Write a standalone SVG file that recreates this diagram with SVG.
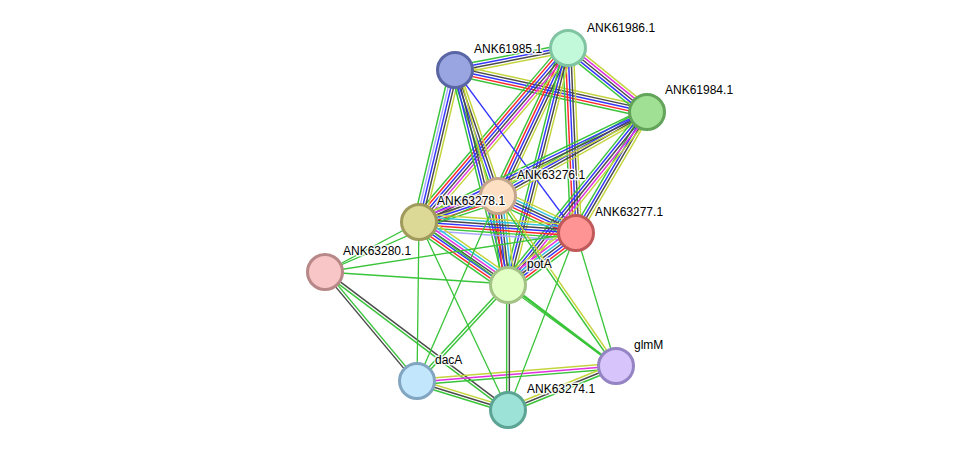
<svg xmlns="http://www.w3.org/2000/svg" width="976" height="456" viewBox="0 0 976 456">
<style>
line{stroke-width:1.3;fill:none}
.g{stroke:#3ac43a}.y{stroke:#c4d43c}.k{stroke:#4a4a4a}.b{stroke:#3434ff}.r{stroke:#ff2a2a}
.m{stroke:#e030e0}.c{stroke:#30c0e0}.l{stroke:#a8a8ff}
.node circle{stroke-width:3}
text{font-family:"Liberation Sans",Arial,sans-serif;font-size:12px;fill:#000;stroke:#fff;stroke-width:3px;stroke-opacity:.85;paint-order:stroke;stroke-linejoin:round}
</style>
<rect width="976" height="456" fill="#fff"/>
<g id="edges">
<!-- A-B -->
<g transform="translate(455 70) rotate(-11.02) scale(1 1.12)"><line x2="115.1" y1="-3.6" y2="-3.6" class="g"/><line x2="115.1" y1="-1.2" y2="-1.2" class="b"/><line x2="115.1" y1="1.2" y2="1.2" class="k"/><line x2="115.1" y1="3.6" y2="3.6" class="y"/></g>
<!-- A-C -->
<g transform="translate(455 70) rotate(12.34) scale(1 1.12)"><line x2="196.5" y1="-4.8" y2="-4.8" class="y"/><line x2="196.5" y1="-2.4" y2="-2.4" class="k"/><line x2="196.5" class="b"/><line x2="196.5" y1="2.4" y2="2.4" class="r"/><line x2="196.5" y1="4.8" y2="4.8" class="g"/></g>
<!-- B-C -->
<g transform="translate(568 48) rotate(39.01) scale(1 1.12)"><line x2="101.7" y1="-4.8" y2="-4.8" class="y"/><line x2="101.7" y1="-2.4" y2="-2.4" class="m"/><line x2="101.7" class="k"/><line x2="101.7" y1="2.4" y2="2.4" class="b"/><line x2="101.7" y1="4.8" y2="4.8" class="g"/></g>
<!-- B-D -->
<g transform="translate(568 48) rotate(115.32) scale(1 1.12)"><line x2="163.7" y1="-4.8" y2="-4.8" class="y"/><line x2="163.7" y1="-2.4" y2="-2.4" class="k"/><line x2="163.7" class="b"/><line x2="163.7" y1="2.4" y2="2.4" class="r"/><line x2="163.7" y1="4.8" y2="4.8" class="g"/></g>
<!-- B-E -->
<g transform="translate(568 48) rotate(130.57) scale(1 1.12)"><line x2="229.1" y1="-6" y2="-6" class="y"/><line x2="229.1" y1="-3.6" y2="-3.6" class="m"/><line x2="229.1" y1="-1.2" y2="-1.2" class="k"/><line x2="229.1" y1="1.2" y2="1.2" class="b"/><line x2="229.1" y1="3.6" y2="3.6" class="r"/><line x2="229.1" y1="6" y2="6" class="g"/></g>
<!-- B-F -->
<g transform="translate(568 48) rotate(87.52) scale(1 1.12)"><line x2="185.2" y1="-4.8" y2="-4.8" class="y"/><line x2="185.2" y1="-2.4" y2="-2.4" class="k"/><line x2="185.2" class="b"/><line x2="185.2" y1="2.4" y2="2.4" class="r"/><line x2="185.2" y1="4.8" y2="4.8" class="g"/></g>
<!-- B-P -->
<g transform="translate(568 48) rotate(104.26) scale(1 1.12)"><line x2="243.5" y1="-3.6" y2="-3.6" class="y"/><line x2="243.5" y1="-1.2" y2="-1.2" class="k"/><line x2="243.5" y1="1.2" y2="1.2" class="b"/><line x2="243.5" y1="3.6" y2="3.6" class="g"/></g>
<!-- A-E -->
<g transform="translate(455 70) rotate(103.32) scale(1 1.12)"><line x2="156.2" y1="-4.8" y2="-4.8" class="y"/><line x2="156.2" y1="-2.4" y2="-2.4" class="k"/><line x2="156.2" class="b"/><line x2="156.2" y1="2.4" y2="2.4" class="l"/><line x2="156.2" y1="4.8" y2="4.8" class="g"/></g>
<!-- A-D -->
<g transform="translate(455 70) rotate(71.16) scale(1 1.12)"><line x2="133.1" y1="-3.6" y2="-3.6" class="y"/><line x2="133.1" y1="-1.2" y2="-1.2" class="k"/><line x2="133.1" y1="1.2" y2="1.2" class="b"/><line x2="133.1" y1="3.6" y2="3.6" class="g"/></g>
<!-- A-P -->
<g transform="translate(455 70) rotate(76.09) scale(1 1.12)"><line x2="220.5" y1="-3.6" y2="-3.6" class="y"/><line x2="220.5" y1="-1.2" y2="-1.2" class="k"/><line x2="220.5" y1="1.2" y2="1.2" class="b"/><line x2="220.5" y1="3.6" y2="3.6" class="g"/></g>
<!-- A-F -->
<line x1="455" y1="70" x2="576" y2="233" class="b"/>
<!-- C-D -->
<g transform="translate(647 112) rotate(150.58) scale(1 1.12)"><line x2="171" y1="-3.6" y2="-3.6" class="y"/><line x2="171" y1="-1.2" y2="-1.2" class="k"/><line x2="171" y1="1.2" y2="1.2" class="b"/><line x2="171" y1="3.6" y2="3.6" class="g"/></g>
<!-- C-E -->
<g transform="translate(647 112) rotate(154.25) scale(1 1.12)"><line x2="253.1" y1="-3.6" y2="-3.6" class="y"/><line x2="253.1" y1="-1.2" y2="-1.2" class="k"/><line x2="253.1" y1="1.2" y2="1.2" class="b"/><line x2="253.1" y1="3.6" y2="3.6" class="g"/></g>
<!-- C-F -->
<g transform="translate(647 112) rotate(120.40) scale(1 1.12)"><line x2="140.3" y1="-3.6" y2="-3.6" class="y"/><line x2="140.3" y1="-1.2" y2="-1.2" class="k"/><line x2="140.3" y1="1.2" y2="1.2" class="b"/><line x2="140.3" y1="3.6" y2="3.6" class="g"/></g>
<!-- C-P -->
<g transform="translate(647 112) rotate(128.94) scale(1 1.12)"><line x2="221.1" y1="-4.8" y2="-4.8" class="y"/><line x2="221.1" y1="-2.4" y2="-2.4" class="m"/><line x2="221.1" class="k"/><line x2="221.1" y1="2.4" y2="2.4" class="b"/><line x2="221.1" y1="4.8" y2="4.8" class="g"/></g>
<!-- E-D -->
<g transform="translate(419 222) rotate(-18.22) scale(1 1.12)"><line x2="83.2" y1="-6" y2="-6" class="y"/><line x2="83.2" y1="-3.6" y2="-3.6" class="m"/><line x2="83.2" y1="-1.2" y2="-1.2" class="k"/><line x2="83.2" y1="1.2" y2="1.2" class="b"/><line x2="83.2" y1="3.6" y2="3.6" class="r"/><line x2="83.2" y1="6" y2="6" class="g"/></g>
<!-- D-F -->
<g transform="translate(498 196) rotate(25.38) scale(1 1.12)"><line x2="86.3" y1="-6" y2="-6" class="y"/><line x2="86.3" y1="-3.6" y2="-3.6" class="c"/><line x2="86.3" y1="-1.2" y2="-1.2" class="k"/><line x2="86.3" y1="1.2" y2="1.2" class="b"/><line x2="86.3" y1="3.6" y2="3.6" class="r"/><line x2="86.3" y1="6" y2="6" class="g"/></g>
<!-- D-P -->
<g transform="translate(498 196) rotate(83.52) scale(1 1.12)"><line x2="88.6" y1="-6" y2="-6" class="y"/><line x2="88.6" y1="-3.6" y2="-3.6" class="c"/><line x2="88.6" y1="-1.2" y2="-1.2" class="k"/><line x2="88.6" y1="1.2" y2="1.2" class="b"/><line x2="88.6" y1="3.6" y2="3.6" class="r"/><line x2="88.6" y1="6" y2="6" class="g"/></g>
<!-- E-F -->
<g transform="translate(419 222) rotate(4.01) scale(1 1.12)"><line x2="157.4" y1="-7.2" y2="-7.2" class="y"/><line x2="157.4" y1="-4.8" y2="-4.8" class="c"/><line x2="157.4" y1="-2.4" y2="-2.4" class="k"/><line x2="157.4" class="b"/><line x2="157.4" y1="2.4" y2="2.4" class="r"/><line x2="157.4" y1="4.8" y2="4.8" class="g"/><line x2="157.4" y1="7.2" y2="7.2" class="l"/></g>
<!-- E-P -->
<g transform="translate(419 222) rotate(34.86) scale(1 1.12)"><line x2="108.5" y1="-7.2" y2="-7.2" class="y"/><line x2="108.5" y1="-4.8" y2="-4.8" class="c"/><line x2="108.5" y1="-2.4" y2="-2.4" class="m"/><line x2="108.5" class="k"/><line x2="108.5" y1="2.4" y2="2.4" class="b"/><line x2="108.5" y1="4.8" y2="4.8" class="r"/><line x2="108.5" y1="7.2" y2="7.2" class="g"/></g>
<!-- P-F -->
<g transform="translate(508 284) rotate(-36.87) scale(1 1.12)"><line x2="85" y1="-7.2" y2="-7.2" class="y"/><line x2="85" y1="-4.8" y2="-4.8" class="m"/><line x2="85" y1="-2.4" y2="-2.4" class="c"/><line x2="85" class="k"/><line x2="85" y1="2.4" y2="2.4" class="b"/><line x2="85" y1="4.8" y2="4.8" class="r"/><line x2="85" y1="7.2" y2="7.2" class="g"/></g>
<!-- G-Q -->
<g transform="translate(325 272) rotate(50.09) scale(1 1.12)"><line x2="143.4" y1="-1.2" y2="-1.2" class="g"/><line x2="143.4" y1="1.2" y2="1.2" class="k"/></g>
<!-- G-R -->
<g transform="translate(325 272) rotate(37.02) scale(1 1.12)"><line x2="229.2" y1="-1.2" y2="-1.2" class="k"/><line x2="229.2" y1="1.2" y2="1.2" class="g"/></g>
<!-- Q-M -->
<g transform="translate(417 382) rotate(-4.60) scale(1 1.12)"><line x2="199.6" y1="-2.4" y2="-2.4" class="y"/><line x2="199.6" class="m"/><line x2="199.6" y1="2.4" y2="2.4" class="g"/></g>
<!-- Q-R -->
<g transform="translate(417 382) rotate(17.10) scale(1 1.12)"><line x2="95.2" y1="-2.4" y2="-2.4" class="y"/><line x2="95.2" class="k"/><line x2="95.2" y1="2.4" y2="2.4" class="g"/></g>
<!-- R-M -->
<g transform="translate(508 410) rotate(-22.17) scale(1 1.12)"><line x2="116.6" y1="-2.4" y2="-2.4" class="y"/><line x2="116.6" class="k"/><line x2="116.6" y1="2.4" y2="2.4" class="g"/></g>
<!-- P-R -->
<g transform="translate(508 284) rotate(90) scale(1 1.12)"><line x2="126" y1="-1.2" y2="-1.2" class="k"/><line x2="126" y1="1.2" y2="1.2" class="g"/></g>
<!-- P-Q -->
<g transform="translate(508 284) rotate(132.88) scale(1 1.12)"><line x2="133.7" y1="-1.2" y2="-1.2" class="g"/><line x2="133.7" y1="1.2" y2="1.2" class="g"/></g>
<!-- D-M -->
<g transform="translate(498 196) rotate(55.24) scale(1 1.12)"><line x2="206.9" y1="-1.2" y2="-1.2" class="y"/><line x2="206.9" y1="1.2" y2="1.2" class="g"/></g>
<!-- single green edges -->
<line x1="576" y1="233" x2="616" y2="366" class="g"/>
<line x1="576" y1="233" x2="508" y2="410" class="g"/>
<line x1="419" y1="222" x2="417" y2="382" class="g"/>
<line x1="419" y1="222" x2="508" y2="410" class="g"/>
<line x1="498" y1="196" x2="417" y2="382" class="g"/>
<line x1="419" y1="222" x2="616" y2="366" class="g"/>
<line x1="325" y1="272" x2="419" y2="222" class="g"/>
<line x1="325" y1="272" x2="498" y2="196" class="g"/>
<line x1="325" y1="272" x2="576" y2="233" class="g"/>
<line x1="325" y1="272" x2="508" y2="284" class="g"/>
<line x1="508" y1="284" x2="616" y2="366" class="g" style="stroke-width:2.4"/>
</g>
<g id="n-ANK61985" class="node"><circle cx="455" cy="70" r="17.5" fill="#98a5e0" stroke="#5a66a4"/><text x="474" y="53">ANK61985.1</text></g>
<g id="n-ANK61986" class="node"><circle cx="568" cy="48" r="17.5" fill="#c2f9da" stroke="#80c4a2"/><text x="587" y="32">ANK61986.1</text></g>
<g id="n-ANK61984" class="node"><circle cx="647" cy="112" r="17.5" fill="#a0e094" stroke="#62a45a"/><text x="665" y="94">ANK61984.1</text></g>
<g id="n-ANK63276" class="node"><circle cx="498" cy="196" r="17.5" fill="#fde0c4" stroke="#c4a48a"/><text x="517" y="179">ANK63276.1</text></g>
<g id="n-ANK63278" class="node"><circle cx="419" cy="222" r="17.5" fill="#dcd896" stroke="#a09a5c"/><text x="437" y="205">ANK63278.1</text></g>
<g id="n-ANK63277" class="node"><circle cx="576" cy="233" r="17.5" fill="#ff9494" stroke="#c05a5a"/><text x="595" y="216">ANK63277.1</text></g>
<g id="n-ANK63280" class="node"><circle cx="325" cy="272" r="17.5" fill="#f8c6c6" stroke="#b88888"/><text x="343" y="255">ANK63280.1</text></g>
<g id="n-potA" class="node"><circle cx="508" cy="285" r="17.5" fill="#e2ffc6" stroke="#a2c286"/><text x="527" y="268">potA</text></g>
<g id="n-glmM" class="node"><circle cx="616" cy="366" r="17.5" fill="#d6c4fa" stroke="#9484c4"/><text x="634" y="349">glmM</text></g>
<g id="n-dacA" class="node"><circle cx="417" cy="381" r="17.5" fill="#c2e6fc" stroke="#82a6c2"/><text x="435" y="364">dacA</text></g>
<g id="n-ANK63274" class="node"><circle cx="508" cy="410" r="17.5" fill="#9ce2d6" stroke="#5ca494"/><text x="527" y="393">ANK63274.1</text></g>
</svg>
